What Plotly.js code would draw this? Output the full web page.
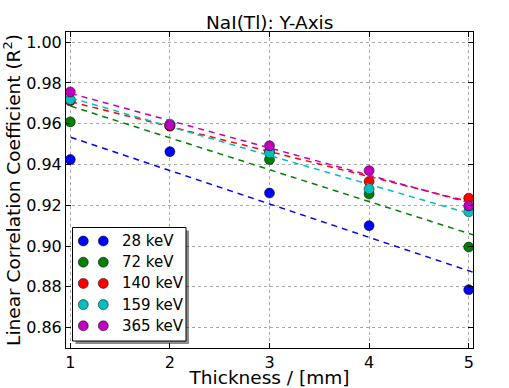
<!DOCTYPE html>
<html>
<head>
<meta charset="utf-8">
<script src="https://cdn.plot.ly/plotly-3.0.1.min.js"></script>
<style>
  html, body { margin: 0; padding: 0; background: #fff; }
  #chart { width: 509px; height: 388px; }
</style>
</head>
<body>
<div id="chart"></div>
<script>
// thickness values (mm)
const thickness = [1, 2, 3, 4, 5];

// R^2 per energy line
const r2_28 = [0.9424, 0.9463, 0.9260, 0.9100, 0.8786];
const r2_72 = [0.9609, 0.9590, 0.9424, 0.9255, 0.8995];
const r2_140 = [0.9712, 0.9588, 0.9466, 0.9317, 0.9235];
const r2_159 = [0.9718, 0.9598, 0.9457, 0.9280, 0.9168];
const r2_365 = [0.9756, 0.9592, 0.9492, 0.9370, 0.9197];

const energyLabels = ["28 keV", "72 keV", "140 keV", "159 keV", "365 keV"];
const colors = ["#0000ff", "#008000", "#ff0000", "#00bfbf", "#bf00bf"];
const allR2 = [r2_28, r2_72, r2_140, r2_159, r2_365];

// least squares line through each series
function linFit(xs, ys) {
  const n = xs.length;
  const mx = xs.reduce((a, b) => a + b, 0) / n;
  const my = ys.reduce((a, b) => a + b, 0) / n;
  let sxy = 0, sxx = 0;
  for (let i = 0; i < n; i++) {
    sxy += (xs[i] - mx) * (ys[i] - my);
    sxx += (xs[i] - mx) * (xs[i] - mx);
  }
  const m = sxy / sxx;
  return x => my + m * (x - mx);
}

const xRange = [0.957, 5.043];
const fitX = [0.9, 5.1];

const traces = [];
allR2.forEach((ys, i) => {
  traces.push({
    x: thickness, y: ys, mode: "markers", type: "scatter",
    name: energyLabels[i], showlegend: false,
    marker: { color: colors[i], size: 10, line: { color: "#000", width: 0.5 } },
  });
  const f = linFit(thickness, ys);
  traces.push({
    x: fitX, y: fitX.map(f), mode: "lines", type: "scatter",
    showlegend: false, hoverinfo: "skip",
    line: { color: colors[i], width: 1.5, dash: "6px,5px" },
  });
});

// hand-made legend (matplotlib style, two markers per entry)
const L = 66, T = 32, W = 407, H = 316;
const px = v => (v - L) / W;
const py = v => (T + H - v) / H;

const shapes = [];
const annotations = [];
// shadow + box
shapes.push({ type: "rect", xref: "paper", yref: "paper", layer: "above",
  x0: px(75.5), x1: px(189), y0: py(230.5), y1: py(344),
  fillcolor: "rgba(0,0,0,0.45)", line: { width: 0 } });
shapes.push({ type: "rect", xref: "paper", yref: "paper", layer: "above",
  x0: px(72.5), x1: px(186), y0: py(227.5), y1: py(341),
  fillcolor: "#fff", line: { color: "#000", width: 1 } });

energyLabels.forEach((lab, i) => {
  const rowY = py(241 + i * 21.2);
  [83.3, 103.3].forEach(cx => {
    shapes.push({ type: "circle", xref: "paper", yref: "paper", layer: "above",
      xsizemode: "pixel", ysizemode: "pixel", xanchor: px(cx), yanchor: rowY,
      x0: -5, x1: 5, y0: -5, y1: 5,
      fillcolor: colors[i], line: { color: "#000", width: 0.5 } });
  });
  annotations.push({ xref: "paper", yref: "paper", x: px(119.5), y: rowY,
    xanchor: "left", yanchor: "middle", showarrow: false, text: lab,
    font: { size: 15, color: "#000" } });
});

// chart title, centred over the plot area
annotations.push({ xref: "paper", yref: "paper", x: 0.5, y: py(22),
  xanchor: "center", yanchor: "middle", showarrow: false,
  text: "NaI(Tl): Y-Axis", font: { size: 18.5, color: "#000" } });

const axisCommon = {
  showline: true, linecolor: "#000", linewidth: 1, mirror: "ticks",
  ticks: "inside", ticklen: 5, tickwidth: 1, tickcolor: "#000",
  showgrid: true, gridcolor: "#a8a8a8", griddash: "dot", gridwidth: 1,
  zeroline: false, tickfont: { size: 16, color: "#000" },
};

const layout = {
  width: 509, height: 388,
  margin: { l: L, r: 509 - L - W, t: T, b: 388 - T - H },
  paper_bgcolor: "#fff", plot_bgcolor: "#fff",
  font: { family: "DejaVu Sans", color: "#000" },
  showlegend: false,
  xaxis: Object.assign({}, axisCommon, {
    range: xRange, tickvals: thickness, ticktext: thickness.map(String),
    title: { text: "Thickness / [mm]", font: { size: 18.5 }, standoff: 5 },
  }),
  yaxis: Object.assign({}, axisCommon, {
    range: [0.85, 1.005], dtick: 0.02, tick0: 0.86, tickformat: ".2f",
    title: { text: "Linear Correlation Coefficient (R<sup>2</sup>)", font: { size: 18.5 }, standoff: 5 },
  }),
  shapes: shapes,
  annotations: annotations,
};

Plotly.newPlot("chart", traces, layout, { displayModeBar: false, staticPlot: true });
</script>
</body>
</html>
